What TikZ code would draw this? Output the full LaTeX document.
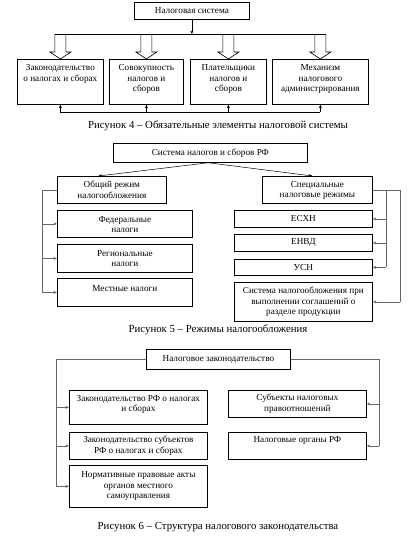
\documentclass[tikz,border=0pt]{standalone}
\usepackage{fontspec}
\setmainfont{Liberation Serif}
\usetikzlibrary{arrows.meta,calc}
\tikzset{
 rect/.style={draw, line width=0.75pt, inner sep=0pt, anchor=north west},
 txt/.style={inner sep=0pt, align=center, font=\fontsize{9.2}{10.6}\selectfont},
 captxt/.style={inner sep=0pt, font=\fontsize{10.8}{12}\selectfont},
 conn/.style={line width=0.5pt},
 arr/.style={line width=0.5pt, -{Stealth[length=3.5pt,width=3pt]}},
 brk/.style={line width=0.5pt, draw=black!60},
 hollowarr/.style={line width=0.6pt},
}
\newcommand\hollowto[1]{\draw[hollowarr] (#1.north) ++(-5.5,-25) -- ++(0,18) -- ++(-5,0) -- ++(10.5,7) -- ++(10.5,-7) -- ++(-5,0) -- ++(0,-18);}
\begin{document}
\begin{tikzpicture}[x=1pt,y=-1pt]
\useasboundingbox (0,0) rectangle (411,537);
% ---------- Figure 4 ----------
\node[rect, minimum width=115pt, minimum height=17pt] (sys) at (134,2) {};
\node[txt] (sys-t) at (sys.center) {Налоговая система};
\node[rect, minimum width=86pt, minimum height=45pt] (a1) at (17,59) {};
\node[rect, minimum width=74pt, minimum height=45pt] (a2) at (109,59) {};
\node[rect, minimum width=76pt, minimum height=45pt] (a3) at (190,59) {};
\node[rect, minimum width=96pt, minimum height=45pt] (a4) at (272,59) {};
\node[txt, anchor=north] (a1-t) at ([yshift=-5.5pt]a1.north) {Законодательство\\о налогах и сборах};
\node[txt, anchor=north] (a2-t) at ([yshift=-5.5pt]a2.north) {Совокупность\\налогов и\\сборов};
\node[txt, anchor=north] (a3-t) at ([yshift=-5.5pt]a3.north) {Плательщики\\налогов и\\сборов};
\node[txt, anchor=north] (a4-t) at ([yshift=-5.5pt]a4.north) {Механизм\\налогового\\администрирования};
\coordinate (h4) at (0,34);
\draw[conn] ([xshift=-5.5pt]a1.north |- h4) -- ([xshift=5.5pt]a4.north |- h4);
\draw[arr] (sys.south) -- (sys.south |- h4);
\hollowto{a1}\hollowto{a2}\hollowto{a3}\hollowto{a4}
\coordinate (b4) at (0,112);
\draw[conn] (a1.south |- b4) -- (a4.south |- b4);
\foreach \b in {a1,a2,a3,a4} \draw[arr] (\b.south |- b4) -- (\b.south);
\node[captxt] (cap4) at (218,126) {Рисунок 4 – Обязательные элементы налоговой системы};
% ---------- Figure 5 ----------
\node[rect, minimum width=194pt, minimum height=19pt] (nal) at (113,143) {};
\node[txt] (nal-t) at (nal.center) {Система налогов и сборов РФ};
\node[rect, minimum width=109pt, minimum height=27pt] (ob) at (57,176) {};
\node[rect, minimum width=110pt, minimum height=27pt] (sp) at (262,176) {};
\node[txt, anchor=north] (ob-t) at ([yshift=-5pt]ob.north) {Общий режим\\налогообложения};
\node[txt, anchor=north] (sp-t) at ([yshift=-5pt]sp.north) {Специальные\\налоговые режимы};
\draw[arr] ([xshift=-2pt]nal.south) -- ([xshift=-13.5pt]ob.north);
\draw[arr] ([xshift=-2pt]nal.south) -- ([xshift=-5pt]sp.north);
\node[rect, minimum width=135pt, minimum height=27pt] (f) at (57,210) {};
\node[rect, minimum width=135pt, minimum height=28pt] (r) at (57,244) {};
\node[rect, minimum width=135pt, minimum height=28pt] (m) at (57,278) {};
\node[txt, anchor=north] (f-t) at ([yshift=-6pt]f.north) {Федеральные\\налоги};
\node[txt, anchor=north] (r-t) at ([yshift=-6pt]r.north) {Региональные\\налоги};
\node[txt, anchor=north] (m-t) at ([yshift=-7pt]m.north) {Местные налоги};
\node[rect, minimum width=138pt, minimum height=17pt] (e1) at (234,210) {};
\node[rect, minimum width=138pt, minimum height=17pt] (e2) at (234,234) {};
\node[rect, minimum width=138pt, minimum height=16pt] (e3) at (234,259) {};
\node[rect, minimum width=138pt, minimum height=39pt] (e4) at (234,282) {};
\node[txt] (e1-t) at (e1.center) {ЕСХН};
\node[txt] (e2-t) at (e2.center) {ЕНВД};
\node[txt] (e3-t) at (e3.center) {УСН};
\node[txt] (e4-t) at (e4.center) {Система налогообложения при\\выполнении соглашений о\\разделе продукции};
\coordinate (L5) at (42,0);
\draw[brk] (ob.west) -- (ob.west -| L5) -- (m.west -| L5);
\foreach \b in {f,r,m} \draw[arr, draw=black!60] (\b.west -| L5) -- (\b.west);
\coordinate (R5a) at (386,0);
\coordinate (R5b) at (400,0);
\draw[brk] (sp.east) -- (sp.east -| R5b) -- (e4.east -| R5b);
\draw[brk] (sp.east -| R5a) -- (e3.east -| R5a);
\foreach \b in {e1,e2,e3} \draw[arr, draw=black!60] (\b.east -| R5a) -- (\b.east);
\draw[arr, draw=black!60] (e4.east -| R5b) -- (e4.east);
\node[captxt] (cap5) at (218,330) {Рисунок 5 – Режимы налогообложения};
% ---------- Figure 6 ----------
\node[rect, minimum width=144pt, minimum height=20pt] (zak) at (146,349) {};
\node[txt] (zak-t) at (zak.center) {Налоговое законодательство};
\node[rect, minimum width=138pt, minimum height=34pt] (l1) at (69,390) {};
\node[rect, minimum width=138pt, minimum height=27pt] (l2) at (69,432) {};
\node[rect, minimum width=138pt, minimum height=42pt] (l3) at (69,465) {};
\node[rect, minimum width=138pt, minimum height=27pt] (r1) at (228,390) {};
\node[rect, minimum width=138pt, minimum height=27pt] (r2) at (228,432) {};
\node[txt, anchor=north] (l1-t) at ([yshift=-5pt]l1.north) {Законодательство РФ о налогах\\и сборах};
\node[txt] (l2-t) at (l2.center) {Законодательство субъектов\\РФ о налогах и сборах};
\node[txt] (l3-t) at (l3.center) {Нормативные правовые акты\\органов местного\\самоуправления};
\node[txt] (r1-t) at (r1.center) {Субъекты налоговых\\правоотношений};
\node[txt, anchor=north] (r2-t) at ([yshift=-4pt]r2.north) {Налоговые органы РФ};
\coordinate (L6) at (56,0);
\draw[brk] (zak.west) -- (zak.west -| L6) -- (l3.west -| L6);
\foreach \b in {l1,l2,l3} \draw[arr, draw=black!60] (\b.west -| L6) -- (\b.west);
\coordinate (R6) at (379,0);
\draw[brk] (zak.east) -- (zak.east -| R6) -- (r2.east -| R6);
\foreach \b in {r1,r2} \draw[arr, draw=black!60] (\b.east -| R6) -- (\b.east);
\node[captxt] (cap6) at (218,527) {Рисунок 6 – Структура налогового законодательства};
\end{tikzpicture}
\end{document}
